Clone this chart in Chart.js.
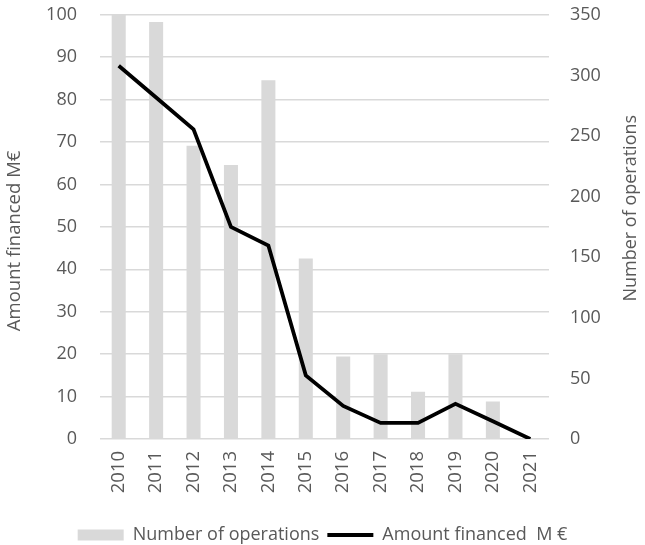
<!DOCTYPE html>
<html>
<head>
<meta charset="utf-8">
<script src="https://cdn.jsdelivr.net/npm/chart.js@4.4.1/dist/chart.umd.min.js"></script>
<style>
html,body{margin:0;padding:0;background:#fff;}
#wrap{width:645px;height:545px;position:relative;}
</style>
</head>
<body>
<div id="wrap"><canvas id="c" width="645" height="545"></canvas></div>
<script>
const years = ['2010','2011','2012','2013','2014','2015','2016','2017','2018','2019','2020','2021'];
const operations = [350, 344, 242, 226, 296, 149, 68, 70, 39, 70, 31, 0];
const amountFinanced = [88, 80.5, 73, 50, 45.6, 15, 7.8, 3.8, 3.8, 8.3, 4.2, 0];
const leftTicks = [0,10,20,30,40,50,60,70,80,90,100];
const rightTicks = [0,50,100,150,200,250,300,350];
const leftTitle = 'Amount financed M€';
const rightTitle = 'Number of operations';

const FONT = "'Open Sans', sans-serif";
const GREY = '#595959';

Chart.defaults.font.family = FONT;
Chart.defaults.color = GREY;

// Draws both axis titles reading bottom-to-top, like the reference
const axisTitles = {
  id: 'axisTitles',
  afterDraw(chart) {
    const ctx = chart.ctx;
    const area = chart.chartArea;
    const h = area.bottom - area.top;
    ctx.save();
    ctx.fillStyle = GREY;
    ctx.font = "18.5px " + FONT;
    ctx.textAlign = 'center';
    ctx.textBaseline = 'middle';
    ctx.translate(chart.scales.y.left + 15, area.top + h * 0.533);
    ctx.rotate(-Math.PI / 2);
    ctx.fillText(leftTitle, 0, 0);
    ctx.restore();
    ctx.save();
    ctx.fillStyle = GREY;
    ctx.font = "18px " + FONT;
    ctx.textAlign = 'center';
    ctx.textBaseline = 'middle';
    ctx.translate(chart.scales.y1.right - 14, area.top + h * 0.456);
    ctx.rotate(-Math.PI / 2);
    ctx.fillText(rightTitle, 0, 0);
    ctx.restore();
  }
};

new Chart(document.getElementById('c'), {
  data: {
    labels: years,
    datasets: [
      {
        type: 'line',
        label: 'Amount financed  M €',
        data: amountFinanced,
        yAxisID: 'y',
        borderColor: '#000',
        backgroundColor: '#000',
        borderWidth: 3.8,
        pointRadius: 0,
        tension: 0,
        order: 0
      },
      {
        type: 'bar',
        label: 'Number of operations',
        data: operations,
        yAxisID: 'y1',
        backgroundColor: '#d9d9d9',
        borderWidth: 0,
        categoryPercentage: 0.75,
        barPercentage: 0.5,
        order: 1
      }
    ]
  },
  plugins: [axisTitles],
  options: {
    responsive: false,
    animation: false,
    layout: { padding: { top: 3, bottom: -9, left: 0, right: 0 } },
    plugins: {
      tooltip: { enabled: false },
      legend: {
        position: 'bottom',
        reverse: true,
        labels: {
          usePointStyle: true,
          pointStyleWidth: 46,
          boxHeight: 11,
          padding: 8,
          color: GREY,
          font: { size: 18, family: FONT },
          generateLabels(chart) {
            const items = Chart.defaults.plugins.legend.labels.generateLabels(chart);
            items.forEach(it => {
              const ds = chart.data.datasets[it.datasetIndex];
              if (ds.type === 'line') { it.pointStyle = 'line'; it.strokeStyle = '#000'; it.lineWidth = 4; }
              else { it.pointStyle = 'rect'; it.fillStyle = '#d9d9d9'; it.strokeStyle = '#d9d9d9'; it.lineWidth = 0; }
            });
            return items;
          }
        }
      }
    },
    scales: {
      x: {
        offset: true,
        grid: { display: false, drawTicks: false },
        border: { display: false },
        ticks: { maxRotation: 90, minRotation: 90, padding: 12, color: GREY, font: { size: 18.5 } },
        afterFit(s) { s.height = 79; }
      },
      y: {
        position: 'left',
        min: 0, max: 100,
        afterBuildTicks(s) { s.ticks = leftTicks.map(v => ({ value: v })); },
        grid: { color: '#d9d9d9', lineWidth: 1.5, drawTicks: true, tickLength: 19, tickColor: 'rgba(0,0,0,0)' },
        border: { display: false },
        ticks: { padding: 4, color: GREY, font: { size: 18 } },
        afterFit(s) { s.width = 100; }
      },
      y1: {
        position: 'right',
        min: 0, max: 350,
        afterBuildTicks(s) { s.ticks = rightTicks.map(v => ({ value: v })); },
        grid: { display: false, drawTicks: true, tickLength: 17, tickColor: 'rgba(0,0,0,0)' },
        border: { display: false },
        ticks: { padding: 4, color: GREY, font: { size: 18 } },
        afterFit(s) { s.width = 96; }
      }
    }
  }
});
</script>
</body>
</html>
